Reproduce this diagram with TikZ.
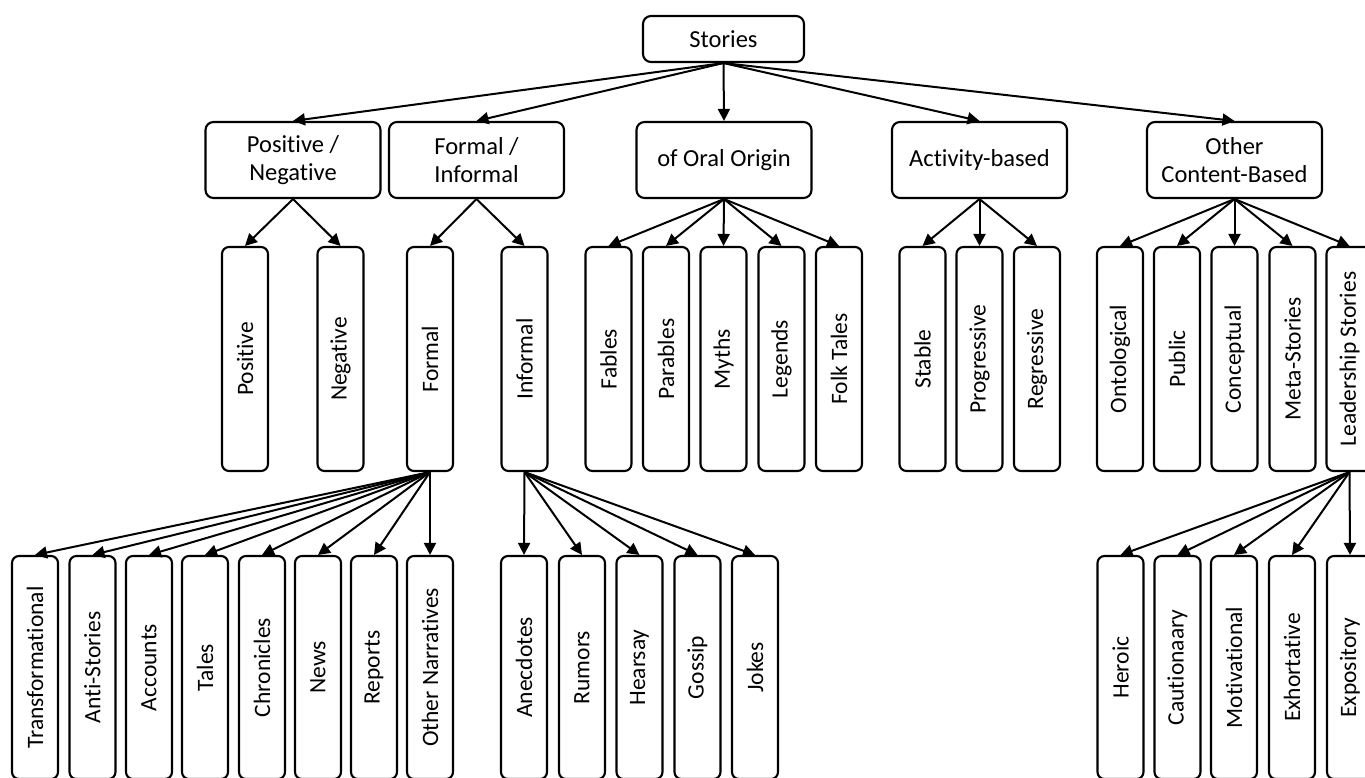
\documentclass[tikz,border=0pt]{standalone}
\usepackage{fontspec}
\setmainfont[Ligatures={NoCommon}]{Carlito}
\usetikzlibrary{arrows.meta}
\tikzset{
  box/.style={draw=black, line width=2.1pt, rounded corners=8pt, inner sep=0pt, align=center,
    font=\fontsize{24.5}{28}\selectfont, minimum width=175pt, minimum height=76pt},
  rootbox/.style={box, minimum width=161pt, minimum height=46pt},
  tallbox/.style={draw=black, line width=2.1pt, rounded corners=7pt, inner sep=0pt,
    font=\fontsize{23.5}{27}\selectfont, minimum width=46pt, minimum height=224pt},
  link/.style={line width=2pt, -{Triangle[length=12pt,width=12pt]}},
}
\newcommand{\vtext}[1]{\rotatebox{90}{#1}}
\begin{document}
\begin{tikzpicture}[x=1pt,y=-1pt]
\useasboundingbox[fill=white] (0,0) rectangle (1365,778);
% root
\node[rootbox] (stories) at (723.5,39) {Stories};
% level 1
\node[box] (pn) at (293,160) {Positive /\\Negative};
\node[box] (fi) at (476.5,160) {Formal /\\Informal};
\node[box] (oral) at (724,160) {of Oral Origin};
\node[box] (act) at (979.5,160) {Activity-based};
\node[box] (other) at (1234.5,160) {Other\\Content-Based};
% level 2
\foreach \n/\x/\t in {pos/245/Positive, neg/340.5/Negative, formal/430/Formal, informal/524.5/Informal,
  fables/608.5/Fables, parables/666/Parables, myths/723.5/Myths, legends/781.5/Legends, folk/839/Folk Tales,
  stable/922.5/Stable, prog/979.5/Progressive, regr/1037/Regressive,
  onto/1120/Ontological, public/1177/Public, concept/1234.5/Conceptual, meta/1292.5/Meta-Stories, lead/1349.5/Leadership Stories}
  \node[tallbox] (\n) at (\x,359) {\vtext{\t}};
% level 3
\foreach \n/\x/\t in {trans/35/Transformational, anti/92.5/Anti-Stories, accounts/149/Accounts, tales/205/Tales,
  chron/262/Chronicles, news/318/News, reports/374/Reports, othern/430/Other Narratives,
  anec/524/Anecdotes, rumors/582/Rumors, hearsay/639.5/Hearsay, gossip/697.5/Gossip, jokes/755/Jokes,
  heroic/1120.5/Heroic, caut/1177.5/Cautionaary, motiv/1234/Motivational, exhort/1292/Exhortative, expos/1350/Expository}
  \node[tallbox, minimum height=223pt] (\n) at (\x,667.5) {\vtext{\t}};
% connectors
\foreach \c in {pn,fi,oral,act,other} \draw[link] (stories.south) -- (\c.north);
\foreach \c in {pos,neg} \draw[link] (pn.south) -- (\c.north);
\foreach \c in {formal,informal} \draw[link] (fi.south) -- (\c.north);
\foreach \c in {fables,parables,myths,legends,folk} \draw[link] (oral.south) -- (\c.north);
\foreach \c in {stable,prog,regr} \draw[link] (act.south) -- (\c.north);
\foreach \c in {onto,public,concept,meta,lead} \draw[link] (other.south) -- (\c.north);
\foreach \c in {trans,anti,accounts,tales,chron,news,reports,othern} \draw[link] (formal.south) -- (\c.north);
\foreach \c in {anec,rumors,hearsay,gossip,jokes} \draw[link] (informal.south) -- (\c.north);
\foreach \c in {heroic,caut,motiv,exhort,expos} \draw[link] (lead.south) -- (\c.north);
\end{tikzpicture}
\end{document}
